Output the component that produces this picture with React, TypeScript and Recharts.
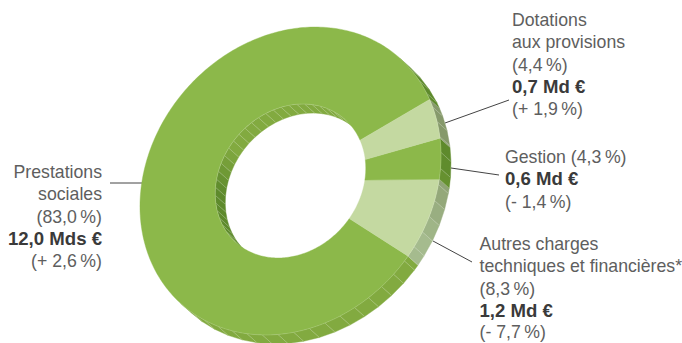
import React from "react";
import { PieChart, Pie } from "recharts";

const categories = ["Prestations sociales", "Autres charges techniques et financières*", "Gestion", "Dotations aux provisions"];
const shares = [83.0, 8.3, 4.3, 4.4];
const topColors = ["#8CB84A", "#C4D9A1", "#8CB84A", "#C4D9A1"];
const wallLight = ["#82AA40", "#A5BB8E", "#82AA40", "#A5BB8E"];
const wallDark = ["#5E8A2C", "#86996B", "#5E8A2C", "#86996B"];
const rows = categories.map((name, i) => ({
  name,
  share: shares[i],
  top: topColors[i],
  light: wallLight[i],
  dark: wallDark[i],
}));

const labelBlocks = [
  { x: 102, anchor: "end", lines: [["Prestations", 178], ["sociales", 200], ["(83,0\u2009%)", 223], ["12,0 Mds €", 245, 1], ["(+ 2,6\u2009%)", 267]] },
  { x: 512, anchor: "start", lines: [["Dotations", 26], ["aux provisions", 48], ["(4,4\u2009%)", 71], ["0,7 Md €", 93, 1], ["(+ 1,9\u2009%)", 115]] },
  { x: 505, anchor: "start", lines: [["Gestion (4,3\u2009%)", 163], ["0,6 Md €", 185, 1], ["(- 1,4\u2009%)", 208]] },
  { x: 479.5, anchor: "start", lines: [["Autres charges", 250], ["techniques et financières*", 272], ["(8,3\u2009%)", 295], ["1,2 Md €", 317, 1], ["(- 7,7\u2009%)", 338]] },
];
const leaders = [
  [110, 183, 142, 183],
  [445, 123, 509, 100],
  [451, 168, 499, 175],
  [433, 241, 472, 262],
];

// The tilted, extruded look: a linear map applied to the library's sector geometry.
const SKEW = 0.084;
const STRETCH = 1.023;
const DX = 10;
const DY = 9;
const RAD = Math.PI / 180;
const FACET = 6;

const pt = (cx: number, cy: number, r: number, deg: number): [number, number] => {
  const c = Math.cos(deg * RAD);
  const s = Math.sin(deg * RAD);
  return [cx + r * (c + SKEW * s), cy - r * (SKEW * c + STRETCH * s)];
};
const hex = (h: string) => [1, 3, 5].map((i) => parseInt(h.slice(i, i + 2), 16));
const mix = (a: string, b: string, k: number) => {
  const A = hex(a);
  const B = hex(b);
  return `rgb(${A.map((v, i) => Math.round(v + (B[i] - v) * k)).join(",")})`;
};
const norm = (d: number) => ((d + 540) % 360) - 180;
const shade = (deg: number, centre: number) => {
  const off = Math.abs(norm(deg - centre));
  return Math.max(0, Math.min(1, (80 - off) / 32));
};
const facing = (deg: number, outer: boolean) => {
  // outward normal of the mapped ellipse dotted with the extrusion direction
  const tx = -Math.sin(deg * RAD) + SKEW * Math.cos(deg * RAD);
  const ty = SKEW * Math.sin(deg * RAD) - STRETCH * Math.cos(deg * RAD);
  const dot = -ty * DX + tx * DY;
  return outer ? dot > 0 : dot < 0;
};
const facetStops = (a: number, b: number) => {
  const out = [a];
  let v = Math.ceil(a / FACET) * FACET;
  if (v === a) v += FACET;
  for (; v < b; v += FACET) out.push(v);
  out.push(b);
  return out;
};

const WallShape = (props: any) => {
  const { cx, cy, innerRadius, outerRadius, startAngle, endAngle, payload } = props;
  const a = Math.min(startAngle, endAngle);
  const b = Math.max(startAngle, endAngle);
  const stops = facetStops(a, b);
  const light = payload?.light ?? props.light;
  const dark = payload?.dark ?? props.dark;
  const parts: React.ReactNode[] = [];
  [outerRadius, innerRadius].forEach((r: number, ring: number) => {
    const outer = ring === 0;
    for (let i = 0; i < stops.length - 1; i++) {
      const s0 = stops[i];
      const s1 = stops[i + 1];
      const mid = (s0 + s1) / 2;
      if (!facing(mid, outer)) continue;
      const p0 = pt(cx, cy, r, s0);
      const p1 = pt(cx, cy, r, s1);
      const k = shade(mid, outer ? -75 : 100);
      const fill = mix(dark, light, k);
      parts.push(
        <path
          key={`${ring}-${i}`}
          d={`M${p0}L${p1}L${p1[0] + DX},${p1[1] + DY}L${p0[0] + DX},${p0[1] + DY}Z`}
          fill={fill}
          stroke={fill}
          strokeWidth={0.4}
        />,
        <line
          key={`h${ring}-${i}`}
          x1={p0[0]}
          y1={p0[1]}
          x2={p0[0] + DX}
          y2={p0[1] + DY}
          stroke="#FFFFFF"
          strokeOpacity={0.32}
          strokeWidth={0.6}
        />
      );
    }
  });
  return <g>{parts}</g>;
};

const TopShape = (props: any) => {
  const { cx, cy, innerRadius, outerRadius, startAngle, endAngle, payload } = props;
  const a = Math.min(startAngle, endAngle);
  const b = Math.max(startAngle, endAngle);
  const pts: [number, number][] = [];
  const n = Math.ceil(b - a);
  const at = (i: number) => a + ((b - a) * i) / n;
  for (let i = 0; i <= n; i++) pts.push(pt(cx, cy, outerRadius, at(i)));
  for (let i = n; i >= 0; i--) pts.push(pt(cx, cy, innerRadius, at(i)));
  const fill = payload?.top ?? props.top;
  const edges: React.ReactNode[] = [];
  for (let i = 0; i < n; i++) {
    const mid = (at(i) + at(i + 1)) / 2;
    [outerRadius, innerRadius].forEach((r: number, ring: number) => {
      if (!facing(mid, ring === 0)) return;
      const p = pt(cx, cy, r, at(i));
      const q = pt(cx, cy, r, at(i + 1));
      edges.push(
        <line key={`${ring}-${i}`} x1={p[0]} y1={p[1]} x2={q[0]} y2={q[1]} stroke="#FFFFFF" strokeOpacity={0.22} strokeWidth={0.7} />
      );
    });
  }
  return (
    <g>
      <path d={`M${pts.join("L")}Z`} fill={fill} stroke={fill} strokeWidth={0.4} />
      {edges}
    </g>
  );
};

export default function App() {
  return (
    <div style={{ position: "absolute", left: 0, top: 0, width: 682, height: 343, background: "#fff", overflow: "hidden" }}>
      <PieChart width={682} height={343} margin={{ top: 0, right: 0, bottom: 0, left: 0 }}>
        <Pie
          data={rows}
          dataKey="share"
          nameKey="name"
          cx={290.5}
          cy={181}
          innerRadius={75}
          outerRadius={150}
          startAngle={27.3}
          endAngle={387.3}
          paddingAngle={0}
          stroke="none"
          isAnimationActive={false}
          shape={WallShape}
          activeShape={WallShape}
          inactiveShape={WallShape}
        />
        <Pie
          data={rows}
          dataKey="share"
          nameKey="name"
          cx={290.5}
          cy={181}
          innerRadius={75}
          outerRadius={150}
          startAngle={27.3}
          endAngle={387.3}
          paddingAngle={0}
          stroke="none"
          isAnimationActive={false}
          shape={TopShape}
          activeShape={TopShape}
          inactiveShape={TopShape}
        />
        {leaders.map((l, i) => (
          <line key={i} x1={l[0]} y1={l[1]} x2={l[2]} y2={l[3]} stroke="#444444" strokeWidth={1} />
        ))}
        {labelBlocks.map((block, i) => (
          <g key={i}>
            {block.lines.map((line, j) => (
              <text
                key={j}
                x={block.x}
                y={line[1] as number}
                textAnchor={block.anchor as any}
                fontFamily='"Liberation Sans", Arial, sans-serif'
                fontSize={line[2] ? 18.6 : 17.7}
                fontWeight={line[2] ? 700 : 400}
                fill={line[2] ? "#3A3A3A" : "#5E5E5E"}
              >
                {line[0]}
              </text>
            ))}
          </g>
        ))}
      </PieChart>
    </div>
  );
}
